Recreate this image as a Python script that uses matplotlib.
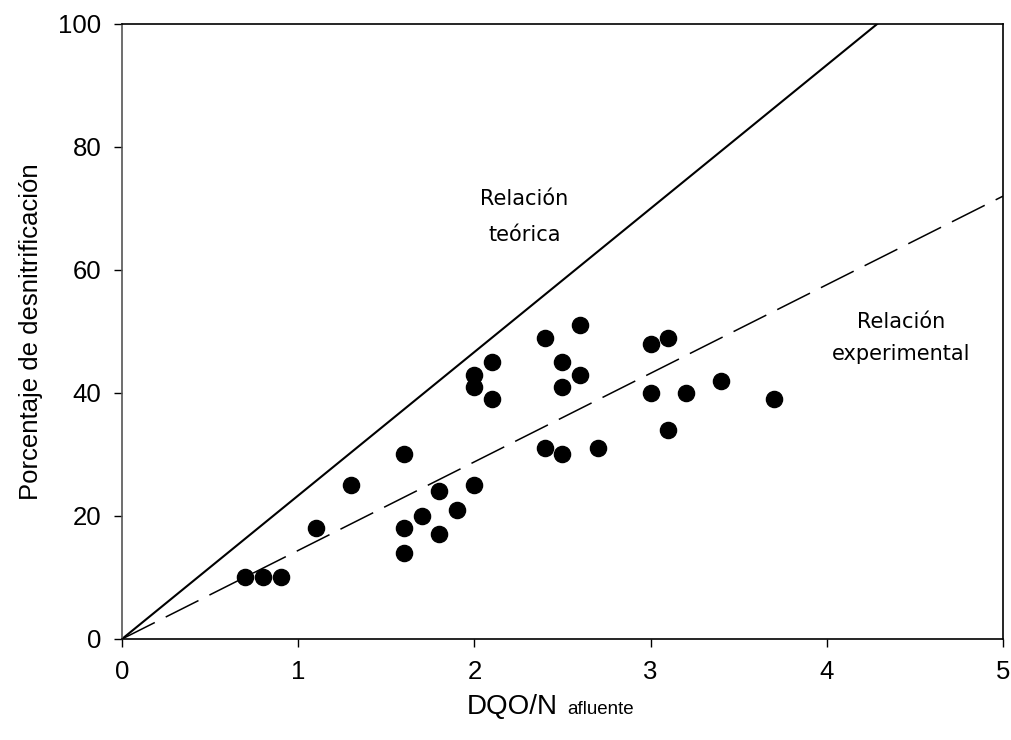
import numpy as np
import matplotlib
matplotlib.use("Agg")
import matplotlib.pyplot as plt

# DQO/N del afluente vs porcentaje de desnitrificacion
dqo_n = [0.7, 0.8, 0.9, 1.1, 1.3, 1.6, 1.6, 1.6, 1.7, 1.8, 1.8, 1.9,
         2.0, 2.0, 2.0, 2.1, 2.1, 2.4, 2.4, 2.5, 2.5, 2.5, 2.6, 2.6,
         2.7, 3.0, 3.0, 3.1, 3.1, 3.2, 3.4, 3.7]
desnit = [10, 10, 10, 18, 25, 30, 18, 14, 20, 24, 17, 21,
          25, 43, 41, 45, 39, 49, 31, 45, 41, 30, 51, 43,
          31, 48, 40, 49, 34, 40, 42, 39]

# pendientes de las rectas (porcentaje por unidad de DQO/N)
pend_teorica = 23.33
pend_experimental = 14.4

plt.rcParams['font.family'] = ['Liberation Sans', 'DejaVu Sans']

fig = plt.figure(figsize=(10.11, 7.40), dpi=100)
ax = fig.add_axes([0.1207, 0.1365, 0.8713, 0.8311])

x_lin = np.array([0, 5])
ax.plot(x_lin, pend_teorica * x_lin, color='black', lw=1.5)
ax.plot(x_lin, pend_experimental * x_lin, color='black', lw=1.1,
        dashes=(24, 8))
ax.scatter(dqo_n, desnit, s=135, color='black', zorder=3)

ax.set_xlim(0, 5)
ax.set_ylim(0, 100)
ax.set_xticks(range(0, 6))
ax.set_yticks(range(0, 101, 20))
ax.tick_params(direction='out', length=6, width=1, labelsize=18.5, pad=9)
for s in ax.spines.values():
    s.set_linewidth(1.2)
ax.spines['left'].set_color('#555555')

ax.set_ylabel('Porcentaje de desnitrificación', fontsize=18.5, labelpad=11)

# etiqueta del eje x con subindice mas chico
fig.text(467 / 1011, 1 - 714 / 740, 'DQO/N', fontsize=20,
         ha='left', va='baseline')
fig.text(567 / 1011, 1 - 714 / 740, 'afluente', fontsize=13.5,
         ha='left', va='baseline')

ax.text(2.285, 68.6, 'Relación\nteórica', fontsize=15, ha='center',
        va='center', family='DejaVu Sans', linespacing=2.0)
ax.text(4.42, 49.0, 'Relación\nexperimental', fontsize=15, ha='center',
        va='center', family='DejaVu Sans', linespacing=1.75)

fig.savefig('out.png', dpi=100)
